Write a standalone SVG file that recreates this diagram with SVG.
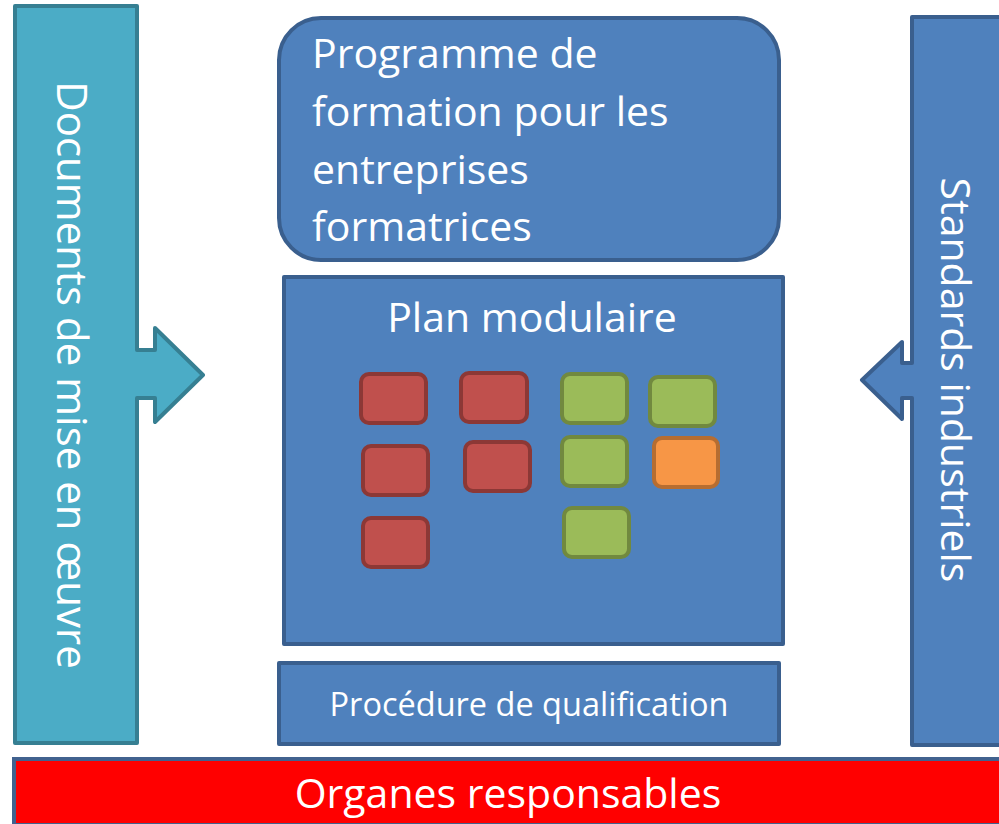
<svg xmlns="http://www.w3.org/2000/svg" width="999" height="824" viewBox="0 0 999 824">
<style>
  .blue { fill: #4F81BD; stroke: #3A5F8E; stroke-width: 4; stroke-linejoin: round; }
  .teal { fill: #4BACC6; stroke: #367F92; stroke-width: 4; stroke-linejoin: round; }
  .band { fill: #FF0000; stroke: #41628F; stroke-width: 4; }
  .red { fill: #C0504D; stroke: #8C3836; stroke-width: 4; }
  .green { fill: #9BBB59; stroke: #71893F; stroke-width: 4; }
  .orange { fill: #F79646; stroke: #B66D31; stroke-width: 4; }
  text { font-family: "Open Sans", "Liberation Sans", sans-serif; fill: #FFFFFF; }
  .big { font-size: 41px; }
  .small { font-size: 32.5px; }
</style>
<rect width="999" height="824" fill="#FFFFFF"/>

<g id="documents">
  <path class="teal" d="M15,6 H137 V350 H155 V328 L203,375 L155,422 V398 H137 V743 H15 Z"/>
  <text class="big" style="font-size:42px" text-anchor="middle" transform="translate(57,375) rotate(90)">Documents de mise en œuvre</text>
</g>

<g id="standards">
  <path class="blue" d="M912,17 H1006 V745 H912 V398 H902 V419 L862,380 L902,342 V363 H912 Z"/>
  <text class="big" text-anchor="middle" transform="translate(941,380) rotate(90)">Standards industriels</text>
</g>

<g id="programme">
  <rect class="blue" x="279" y="18" width="500" height="242" rx="42" ry="42"/>
  <text class="big" x="312" y="68">Programme de</text>
  <text class="big" x="312" y="126">formation pour les</text>
  <text class="big" x="312" y="184">entreprises</text>
  <text class="big" x="312" y="241">formatrices</text>
</g>

<g id="plan">
  <rect class="blue" x="284" y="277" width="499" height="367"/>
  <text class="big" x="532" y="332" text-anchor="middle">Plan modulaire</text>
</g>

<g id="modules">
  <rect class="red" x="361" y="374" width="65" height="49" rx="8"/>
  <rect class="red" x="461" y="373" width="66" height="49" rx="8"/>
  <rect class="green" x="562" y="374" width="65" height="49" rx="8"/>
  <rect class="green" x="650" y="377" width="65" height="49" rx="8"/>
  <rect class="red" x="363" y="446" width="65" height="49" rx="8"/>
  <rect class="red" x="465" y="442" width="65" height="49" rx="8"/>
  <rect class="green" x="562" y="437" width="65" height="49" rx="8"/>
  <rect class="orange" x="654" y="438" width="64" height="49" rx="8"/>
  <rect class="red" x="363" y="518" width="65" height="49" rx="8"/>
  <rect class="green" x="564" y="508" width="65" height="49" rx="8"/>
</g>

<g id="procedure">
  <rect class="blue" x="279" y="663" width="500" height="81"/>
  <text class="small" x="529" y="716" text-anchor="middle">Procédure de qualification</text>
</g>

<g id="organes">
  <rect class="band" x="14" y="759" width="992" height="66"/>
  <text class="big" x="508" y="808" text-anchor="middle">Organes responsables</text>
</g>

<g id="connectors"></g>
</svg>
